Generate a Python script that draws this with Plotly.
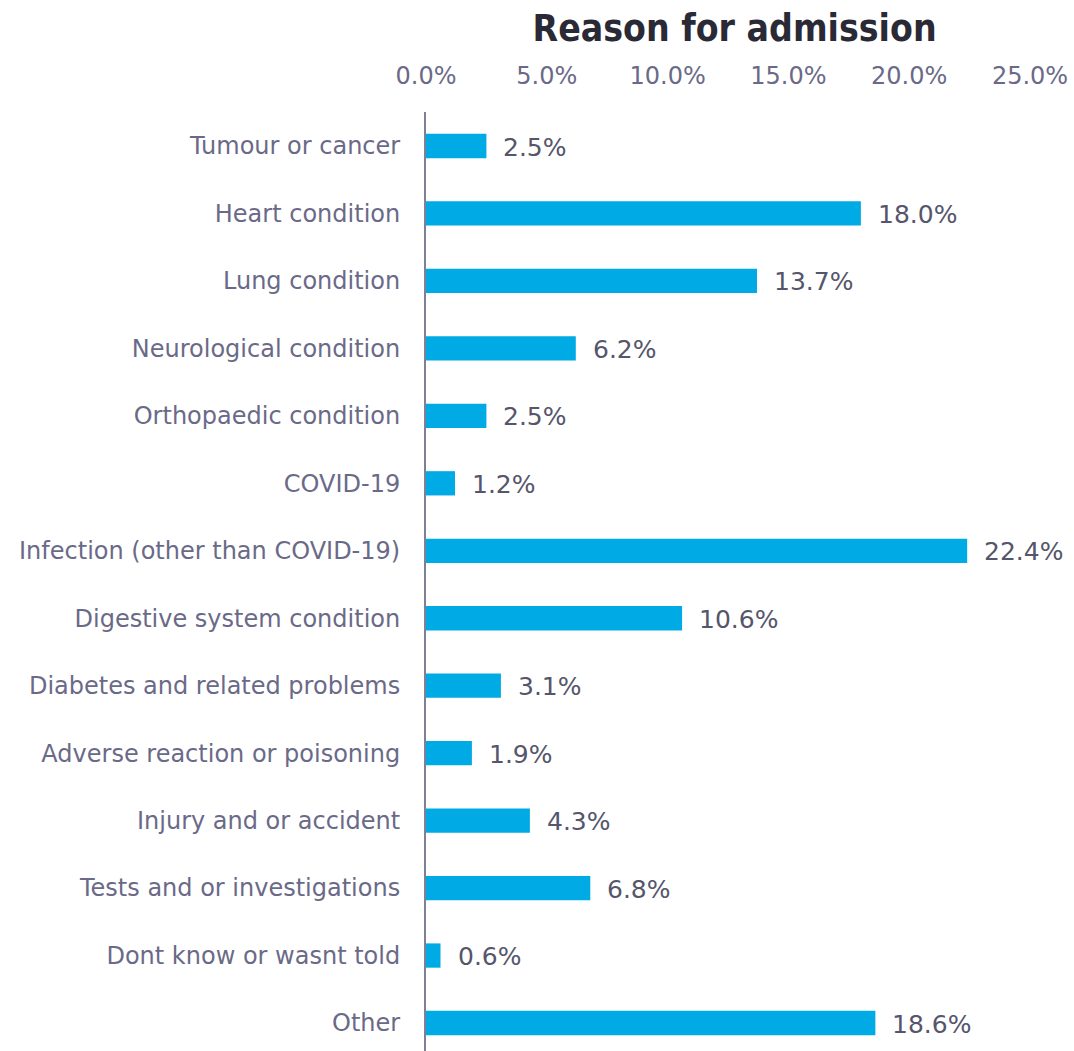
import plotly.graph_objects as go

categories = [
    "Tumour or cancer",
    "Heart condition",
    "Lung condition",
    "Neurological condition",
    "Orthopaedic condition",
    "COVID-19",
    "Infection (other than COVID-19)",
    "Digestive system condition",
    "Diabetes and related problems",
    "Adverse reaction or poisoning",
    "Injury and or accident",
    "Tests and or investigations",
    "Dont know or wasnt told",
    "Other",
]
percent = [2.5, 18.0, 13.7, 6.2, 2.5, 1.2, 22.4, 10.6, 3.1, 1.9, 4.3, 6.8, 0.6, 18.6]
tick_vals = [0, 5, 10, 15, 20, 25]
tick_text = ["0.0%", "5.0%", "10.0%", "15.0%", "20.0%", "25.0%"]

FONT = "DejaVu Sans"
TITLE_FONT = "DejaVu Sans Condensed, DejaVu Sans"
BAR = "#00AAE4"
LABEL = "#6A6A88"
VALUE = "#55556B"

fig = go.Figure(
    go.Bar(
        x=percent,
        y=categories,
        orientation="h",
        width=0.36,
        marker=dict(color=BAR, line=dict(width=0)),
        hoverinfo="skip",
    )
)

for cat, val in zip(categories, percent):
    fig.add_annotation(
        x=val, y=cat, text=f"{val:.1f}%", showarrow=False,
        xanchor="left", yanchor="middle", xshift=15, yshift=-1,
        font=dict(family=FONT, size=25, color=VALUE),
    )

fig.update_layout(
    width=1074, height=1051,
    margin=dict(l=426, r=44, t=112, b=0),
    paper_bgcolor="white", plot_bgcolor="white",
    showlegend=False,
    font=dict(family=FONT, color=LABEL),
    title=dict(
        text="<b>Reason for admission</b>",
        x=0.684, xanchor="center", y=0.973, yanchor="middle",
        font=dict(family=TITLE_FONT, size=37, color="#2A2A36"),
    ),
    xaxis=dict(
        side="top", range=[0, 25], tickvals=tick_vals, ticktext=tick_text,
        showgrid=False, zeroline=False, showline=False,
        tickfont=dict(family=FONT, size=24, color=LABEL),
        ticks="", ticklabelstandoff=22, fixedrange=True,
    ),
    yaxis=dict(
        categoryorder="array", categoryarray=categories,
        range=[13.415, -0.504],
        showgrid=False, zeroline=False,
        showline=True, linecolor="#7F7F95", linewidth=2,
        tickfont=dict(family=FONT, size=24, color=LABEL),
        ticks="", ticklabelstandoff=19, fixedrange=True,
    ),
)

fig.write_html("out.html")
